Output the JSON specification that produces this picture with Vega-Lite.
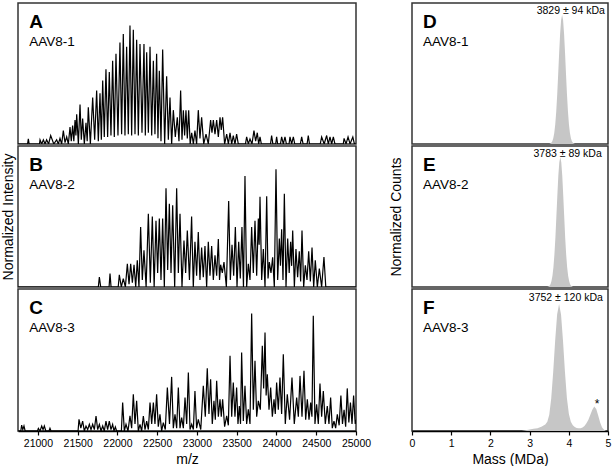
{
  "$schema": "https://vega.github.io/schema/vega-lite/v6.json",
  "padding": {"left": 0, "top": 2, "right": 2, "bottom": 0},
  "background": "white",
  "datasets": {
    "A": [
      {"mz":20750,"i":0},{"mz":20870,"i":0},{"mz":20880,"i":0.036},{"mz":20890,"i":0},{"mz":21020,"i":0},{"mz":21027,"i":0.03},{"mz":21048,"i":0},{"mz":21069,"i":0.03},{"mz":21090,"i":0},{"mz":21110,"i":0.03},{"mz":21135,"i":0},{"mz":21161,"i":0.06},{"mz":21200,"i":0},{"mz":21236,"i":0.03},{"mz":21257,"i":0},{"mz":21278,"i":0.04},{"mz":21299,"i":0},{"mz":21320,"i":0.095},{"mz":21341,"i":0.01},{"mz":21362,"i":0.05},{"mz":21383,"i":0},{"mz":21404,"i":0.12},{"mz":21420,"i":0.02},{"mz":21437,"i":0.13},{"mz":21452,"i":0.02},{"mz":21467,"i":0.17},{"mz":21478,"i":0.06},{"mz":21488,"i":0.21},{"mz":21509,"i":0},{"mz":21530,"i":0.28},{"mz":21546,"i":0.03},{"mz":21563,"i":0.18},{"mz":21584,"i":0},{"mz":21605,"i":0.15},{"mz":21620,"i":0.02},{"mz":21634,"i":0.26},{"mz":21660,"i":0},{"mz":21689,"i":0.33},{"mz":21714,"i":0.03},{"mz":21739,"i":0.38},{"mz":21760,"i":0.02},{"mz":21781,"i":0.36},{"mz":21798,"i":0.03},{"mz":21815,"i":0.45},{"mz":21835,"i":0.05},{"mz":21856,"i":0.53},{"mz":21877,"i":0.05},{"mz":21898,"i":0.51},{"mz":21919,"i":0.06},{"mz":21940,"i":0.59},{"mz":21961,"i":0.05},{"mz":21982,"i":0.64},{"mz":22007,"i":0.06},{"mz":22032,"i":0.72},{"mz":22053,"i":0.07},{"mz":22074,"i":0.78},{"mz":22095,"i":0.06},{"mz":22116,"i":0.69},{"mz":22137,"i":0.07},{"mz":22158,"i":0.84},{"mz":22179,"i":0.06},{"mz":22200,"i":0.81},{"mz":22221,"i":0.07},{"mz":22242,"i":0.74},{"mz":22263,"i":0.06},{"mz":22284,"i":0.71},{"mz":22309,"i":0.08},{"mz":22334,"i":0.71},{"mz":22351,"i":0.06},{"mz":22368,"i":0.65},{"mz":22389,"i":0.08},{"mz":22410,"i":0.69},{"mz":22431,"i":0.06},{"mz":22452,"i":0.59},{"mz":22472,"i":0.07},{"mz":22493,"i":0.64},{"mz":22510,"i":0.04},{"mz":22527,"i":0.52},{"mz":22548,"i":0.02},{"mz":22569,"i":0.67},{"mz":22594,"i":0},{"mz":22619,"i":0.48},{"mz":22640,"i":0.03},{"mz":22661,"i":0.33},{"mz":22682,"i":0},{"mz":22703,"i":0.24},{"mz":22728,"i":0.05},{"mz":22753,"i":0.19},{"mz":22774,"i":0.02},{"mz":22795,"i":0.38},{"mz":22812,"i":0.03},{"mz":22829,"i":0.24},{"mz":22845,"i":0.06},{"mz":22862,"i":0.24},{"mz":22879,"i":0.04},{"mz":22896,"i":0.24},{"mz":22915,"i":0},{"mz":22934,"i":0.08},{"mz":22955,"i":0},{"mz":22975,"i":0.095},{"mz":22996,"i":0},{"mz":23017,"i":0.24},{"mz":23038,"i":0.04},{"mz":23059,"i":0.19},{"mz":23085,"i":0},{"mz":23114,"i":0.07},{"mz":23143,"i":0},{"mz":23172,"i":0.17},{"mz":23189,"i":0.08},{"mz":23206,"i":0.17},{"mz":23227,"i":0.07},{"mz":23248,"i":0.17},{"mz":23269,"i":0.05},{"mz":23290,"i":0.19},{"mz":23306,"i":0.1},{"mz":23323,"i":0.19},{"mz":23348,"i":0},{"mz":23374,"i":0.07},{"mz":23395,"i":0},{"mz":23416,"i":0.08},{"mz":23437,"i":0},{"mz":23457,"i":0.06},{"mz":23478,"i":0},{"mz":23499,"i":0.07},{"mz":23520,"i":0},{"mz":23610,"i":0},{"mz":23625,"i":0.05},{"mz":23646,"i":0},{"mz":23667,"i":0.036},{"mz":23692,"i":0},{"mz":23717,"i":0.095},{"mz":23738,"i":0.02},{"mz":23759,"i":0.08},{"mz":23776,"i":0},{"mz":23793,"i":0.05},{"mz":23810,"i":0},{"mz":23925,"i":0},{"mz":23939,"i":0.06},{"mz":23955,"i":0},{"mz":23990,"i":0},{"mz":24002,"i":0.05},{"mz":24015,"i":0},{"mz":24050,"i":0},{"mz":24065,"i":0.05},{"mz":24086,"i":0},{"mz":24107,"i":0.05},{"mz":24125,"i":0},{"mz":24158,"i":0},{"mz":24170,"i":0.05},{"mz":24191,"i":0},{"mz":24212,"i":0.05},{"mz":24230,"i":0},{"mz":24300,"i":0},{"mz":24317,"i":0.05},{"mz":24335,"i":0},{"mz":24385,"i":0},{"mz":24400,"i":0.06},{"mz":24415,"i":0},{"mz":24550,"i":0},{"mz":24568,"i":0.05},{"mz":24600,"i":0},{"mz":24631,"i":0.06},{"mz":24652,"i":0},{"mz":24673,"i":0.05},{"mz":24694,"i":0},{"mz":24715,"i":0.05},{"mz":24735,"i":0},{"mz":24840,"i":0},{"mz":24850,"i":0.04},{"mz":24875,"i":0},{"mz":24900,"i":0.05},{"mz":24925,"i":0},{"mz":24960,"i":0.05},{"mz":24980,"i":0},{"mz":25000,"i":0}
    ],
    "B": [
      {"mz":20750,"i":0},{"mz":21760,"i":0},{"mz":21773,"i":0.07},{"mz":21790,"i":0},{"mz":21895,"i":0},{"mz":21907,"i":0.095},{"mz":21920,"i":0},{"mz":22010,"i":0},{"mz":22024,"i":0.087},{"mz":22049,"i":0},{"mz":22074,"i":0.06},{"mz":22100,"i":0},{"mz":22125,"i":0.165},{"mz":22146,"i":0.02},{"mz":22167,"i":0.165},{"mz":22188,"i":0.03},{"mz":22209,"i":0.158},{"mz":22230,"i":0},{"mz":22250,"i":0.19},{"mz":22271,"i":0},{"mz":22292,"i":0.426},{"mz":22313,"i":0.05},{"mz":22334,"i":0.26},{"mz":22361,"i":0},{"mz":22389,"i":0.52},{"mz":22414,"i":0.03},{"mz":22439,"i":0.5},{"mz":22462,"i":0},{"mz":22485,"i":0.47},{"mz":22506,"i":0.1},{"mz":22527,"i":0.485},{"mz":22548,"i":0.05},{"mz":22569,"i":0.485},{"mz":22590,"i":0},{"mz":22611,"i":0.7},{"mz":22632,"i":0.12},{"mz":22653,"i":0.59},{"mz":22674,"i":0.1},{"mz":22695,"i":0.58},{"mz":22720,"i":0},{"mz":22745,"i":0.7},{"mz":22766,"i":0.1},{"mz":22787,"i":0.52},{"mz":22812,"i":0},{"mz":22837,"i":0.33},{"mz":22858,"i":0.1},{"mz":22879,"i":0.4},{"mz":22906,"i":0.05},{"mz":22933,"i":0.5},{"mz":22954,"i":0},{"mz":22975,"i":0.32},{"mz":22996,"i":0.08},{"mz":23017,"i":0.39},{"mz":23038,"i":0.05},{"mz":23059,"i":0.28},{"mz":23080,"i":0.07},{"mz":23101,"i":0.29},{"mz":23122,"i":0},{"mz":23143,"i":0.32},{"mz":23164,"i":0.08},{"mz":23185,"i":0.29},{"mz":23206,"i":0.05},{"mz":23227,"i":0.225},{"mz":23248,"i":0.08},{"mz":23269,"i":0.34},{"mz":23284,"i":0.05},{"mz":23298,"i":0.158},{"mz":23319,"i":0.1},{"mz":23340,"i":0.177},{"mz":23370,"i":0},{"mz":23399,"i":0.61},{"mz":23420,"i":0.05},{"mz":23441,"i":0.3},{"mz":23462,"i":0.08},{"mz":23483,"i":0.425},{"mz":23504,"i":0},{"mz":23525,"i":0.32},{"mz":23545,"i":0.06},{"mz":23566,"i":0.425},{"mz":23585,"i":0},{"mz":23604,"i":0.787},{"mz":23625,"i":0},{"mz":23646,"i":0.165},{"mz":23667,"i":0.05},{"mz":23688,"i":0.425},{"mz":23709,"i":0.1},{"mz":23730,"i":0.47},{"mz":23751,"i":0.08},{"mz":23772,"i":0.485},{"mz":23782,"i":0.3},{"mz":23793,"i":0.64},{"mz":23814,"i":0.05},{"mz":23835,"i":0.27},{"mz":23856,"i":0},{"mz":23877,"i":0.643},{"mz":23894,"i":0.06},{"mz":23910,"i":0.177},{"mz":23931,"i":0.1},{"mz":23952,"i":0.21},{"mz":23973,"i":0},{"mz":23994,"i":0.835},{"mz":24015,"i":0.05},{"mz":24036,"i":0.343},{"mz":24050,"i":0.15},{"mz":24065,"i":0.41},{"mz":24082,"i":0.05},{"mz":24099,"i":0.662},{"mz":24120,"i":0},{"mz":24141,"i":0.343},{"mz":24160,"i":0.1},{"mz":24178,"i":0.32},{"mz":24191,"i":0.15},{"mz":24204,"i":0.4},{"mz":24225,"i":0},{"mz":24245,"i":0.27},{"mz":24266,"i":0.07},{"mz":24287,"i":0.253},{"mz":24304,"i":0.04},{"mz":24321,"i":0.4},{"mz":24342,"i":0},{"mz":24363,"i":0.154},{"mz":24384,"i":0.05},{"mz":24405,"i":0.253},{"mz":24426,"i":0.04},{"mz":24447,"i":0.28},{"mz":24468,"i":0},{"mz":24488,"i":0.19},{"mz":24514,"i":0},{"mz":24539,"i":0.13},{"mz":24568,"i":0},{"mz":24597,"i":0.213},{"mz":24620,"i":0},{"mz":25000,"i":0}
    ],
    "C": [
      {"mz":20750,"i":0},{"mz":20785,"i":0},{"mz":20796,"i":0.042},{"mz":20810,"i":0.01},{"mz":20825,"i":0.035},{"mz":20840,"i":0},{"mz":20995,"i":0},{"mz":21006,"i":0.019},{"mz":21027,"i":0},{"mz":21048,"i":0.035},{"mz":21065,"i":0.01},{"mz":21081,"i":0.035},{"mz":21100,"i":0},{"mz":21140,"i":0},{"mz":21152,"i":0.019},{"mz":21165,"i":0},{"mz":21505,"i":0},{"mz":21517,"i":0.082},{"mz":21540,"i":0.02},{"mz":21563,"i":0.07},{"mz":21584,"i":0},{"mz":21605,"i":0.035},{"mz":21626,"i":0.01},{"mz":21647,"i":0.047},{"mz":21668,"i":0.01},{"mz":21689,"i":0.047},{"mz":21710,"i":0.01},{"mz":21731,"i":0.106},{"mz":21752,"i":0.01},{"mz":21773,"i":0.047},{"mz":21794,"i":0},{"mz":21815,"i":0.035},{"mz":21835,"i":0},{"mz":21856,"i":0.07},{"mz":21877,"i":0.01},{"mz":21898,"i":0.07},{"mz":21919,"i":0.01},{"mz":21940,"i":0.047},{"mz":21957,"i":0},{"mz":21974,"i":0.028},{"mz":21990,"i":0},{"mz":22050,"i":0},{"mz":22066,"i":0.2},{"mz":22087,"i":0},{"mz":22108,"i":0.047},{"mz":22133,"i":0},{"mz":22158,"i":0.106},{"mz":22179,"i":0.02},{"mz":22200,"i":0.259},{"mz":22221,"i":0.05},{"mz":22242,"i":0.212},{"mz":22263,"i":0},{"mz":22284,"i":0.047},{"mz":22305,"i":0},{"mz":22326,"i":0.106},{"mz":22347,"i":0.01},{"mz":22368,"i":0.07},{"mz":22389,"i":0.01},{"mz":22410,"i":0.2},{"mz":22431,"i":0.05},{"mz":22452,"i":0.2},{"mz":22472,"i":0.05},{"mz":22493,"i":0.259},{"mz":22514,"i":0.03},{"mz":22535,"i":0.118},{"mz":22556,"i":0},{"mz":22577,"i":0.059},{"mz":22602,"i":0.01},{"mz":22628,"i":0.306},{"mz":22655,"i":0.05},{"mz":22682,"i":0.381},{"mz":22703,"i":0.02},{"mz":22724,"i":0.118},{"mz":22745,"i":0.02},{"mz":22766,"i":0.306},{"mz":22787,"i":0.02},{"mz":22808,"i":0.094},{"mz":22829,"i":0.02},{"mz":22850,"i":0.235},{"mz":22871,"i":0.05},{"mz":22892,"i":0.412},{"mz":22913,"i":0.01},{"mz":22934,"i":0.047},{"mz":22955,"i":0.01},{"mz":22975,"i":0.282},{"mz":22996,"i":0.02},{"mz":23017,"i":0.082},{"mz":23048,"i":0.01},{"mz":23080,"i":0.318},{"mz":23105,"i":0.1},{"mz":23130,"i":0.442},{"mz":23151,"i":0.12},{"mz":23172,"i":0.365},{"mz":23193,"i":0.05},{"mz":23214,"i":0.212},{"mz":23231,"i":0.08},{"mz":23248,"i":0.353},{"mz":23269,"i":0.1},{"mz":23290,"i":0.224},{"mz":23306,"i":0.1},{"mz":23323,"i":0.224},{"mz":23348,"i":0.03},{"mz":23374,"i":0.106},{"mz":23395,"i":0.04},{"mz":23416,"i":0.529},{"mz":23437,"i":0.1},{"mz":23457,"i":0.341},{"mz":23478,"i":0.1},{"mz":23499,"i":0.306},{"mz":23516,"i":0.05},{"mz":23533,"i":0.176},{"mz":23548,"i":0.05},{"mz":23562,"i":0.553},{"mz":23583,"i":0.07},{"mz":23604,"i":0.318},{"mz":23625,"i":0.05},{"mz":23646,"i":0.153},{"mz":23667,"i":0.05},{"mz":23688,"i":0.828},{"mz":23709,"i":0.15},{"mz":23730,"i":0.494},{"mz":23751,"i":0.1},{"mz":23772,"i":0.212},{"mz":23797,"i":0.15},{"mz":23822,"i":0.6},{"mz":23839,"i":0.3},{"mz":23856,"i":0.694},{"mz":23870,"i":0.25},{"mz":23885,"i":0.4},{"mz":23906,"i":0.15},{"mz":23927,"i":0.306},{"mz":23948,"i":0.1},{"mz":23969,"i":0.224},{"mz":23985,"i":0.12},{"mz":24002,"i":0.341},{"mz":24023,"i":0.15},{"mz":24044,"i":0.376},{"mz":24065,"i":0.12},{"mz":24086,"i":0.541},{"mz":24111,"i":0.05},{"mz":24136,"i":0.259},{"mz":24165,"i":0.08},{"mz":24195,"i":0.376},{"mz":24224,"i":0.05},{"mz":24254,"i":0.235},{"mz":24275,"i":0.1},{"mz":24296,"i":0.388},{"mz":24321,"i":0.1},{"mz":24346,"i":0.424},{"mz":24367,"i":0.08},{"mz":24388,"i":0.224},{"mz":24409,"i":0.08},{"mz":24430,"i":0.2},{"mz":24446,"i":0.1},{"mz":24463,"i":0.812},{"mz":24484,"i":0.05},{"mz":24505,"i":0.188},{"mz":24526,"i":0.05},{"mz":24547,"i":0.334},{"mz":24568,"i":0.1},{"mz":24589,"i":0.282},{"mz":24614,"i":0.05},{"mz":24639,"i":0.176},{"mz":24660,"i":0.05},{"mz":24681,"i":0.235},{"mz":24702,"i":0.02},{"mz":24723,"i":0.07},{"mz":24744,"i":0.02},{"mz":24765,"i":0.118},{"mz":24788,"i":0.04},{"mz":24810,"i":0.25},{"mz":24830,"i":0.05},{"mz":24850,"i":0.15},{"mz":24870,"i":0.03},{"mz":24890,"i":0.3},{"mz":24910,"i":0.06},{"mz":24930,"i":0.2},{"mz":24950,"i":0.05},{"mz":24970,"i":0.25},{"mz":24990,"i":0.05},{"mz":25000,"i":0.08}
    ],
    "D": [
      {"m":3.5,"c":0},{"m":3.529,"c":0.004},{"m":3.554,"c":0.009},{"m":3.579,"c":0.019},{"m":3.604,"c":0.04},{"m":3.629,"c":0.078},{"m":3.654,"c":0.138},{"m":3.679,"c":0.228},{"m":3.704,"c":0.349},{"m":3.729,"c":0.494},{"m":3.754,"c":0.647},{"m":3.779,"c":0.784},{"m":3.804,"c":0.88},{"m":3.829,"c":0.915},{"m":3.854,"c":0.88},{"m":3.879,"c":0.784},{"m":3.904,"c":0.647},{"m":3.929,"c":0.494},{"m":3.954,"c":0.349},{"m":3.979,"c":0.228},{"m":4.004,"c":0.138},{"m":4.029,"c":0.078},{"m":4.054,"c":0.04},{"m":4.079,"c":0.019},{"m":4.104,"c":0.009},{"m":4.129,"c":0.004},{"m":4.16,"c":0}
    ],
    "E": [
      {"m":3.45,"c":0},{"m":3.483,"c":0.004},{"m":3.508,"c":0.009},{"m":3.533,"c":0.02},{"m":3.558,"c":0.042},{"m":3.583,"c":0.08},{"m":3.608,"c":0.14},{"m":3.633,"c":0.23},{"m":3.658,"c":0.35},{"m":3.683,"c":0.5},{"m":3.708,"c":0.65},{"m":3.733,"c":0.79},{"m":3.758,"c":0.885},{"m":3.783,"c":0.92},{"m":3.808,"c":0.885},{"m":3.833,"c":0.79},{"m":3.858,"c":0.65},{"m":3.883,"c":0.5},{"m":3.908,"c":0.35},{"m":3.933,"c":0.23},{"m":3.958,"c":0.14},{"m":3.983,"c":0.08},{"m":4.008,"c":0.042},{"m":4.033,"c":0.02},{"m":4.058,"c":0.009},{"m":4.083,"c":0.004},{"m":4.11,"c":0}
    ],
    "F": [
      {"m":2.8,"c":0},{"m":2.9,"c":0.005},{"m":3.0,"c":0.01},{"m":3.1,"c":0.015},{"m":3.2,"c":0.02},{"m":3.3,"c":0.03},{"m":3.4,"c":0.045},{"m":3.452,"c":0.065},{"m":3.502,"c":0.115},{"m":3.552,"c":0.23},{"m":3.602,"c":0.415},{"m":3.652,"c":0.635},{"m":3.702,"c":0.82},{"m":3.752,"c":0.895},{"m":3.802,"c":0.82},{"m":3.852,"c":0.635},{"m":3.902,"c":0.415},{"m":3.952,"c":0.23},{"m":4.002,"c":0.12},{"m":4.052,"c":0.065},{"m":4.102,"c":0.04},{"m":4.152,"c":0.028},{"m":4.2,"c":0.022},{"m":4.25,"c":0.02},{"m":4.3,"c":0.02},{"m":4.35,"c":0.025},{"m":4.4,"c":0.035},{"m":4.45,"c":0.055},{"m":4.5,"c":0.08},{"m":4.55,"c":0.115},{"m":4.6,"c":0.15},{"m":4.65,"c":0.172},{"m":4.7,"c":0.155},{"m":4.75,"c":0.11},{"m":4.8,"c":0.06},{"m":4.85,"c":0.025},{"m":4.9,"c":0.008},{"m":4.95,"c":0}
    ]
  },
  "config": {
    "font": "Liberation Sans",
    "view": {"stroke": "#333333", "strokeWidth": 1.5},
    "axis": {"grid": false, "labelFontSize": 10.5, "titleFontSize": 14, "titleFontWeight": "normal", "labelColor": "#000000", "titleColor": "#000000", "domainColor": "#000000", "tickColor": "#000000", "domainWidth": 1.5, "tickWidth": 1.2, "tickSize": 4, "labelPadding": 3, "titlePadding": 4, "labelOverlap": false, "labelFlush": false},
    "text": {"color": "#000000"}
  },
  "spacing": 16,
  "hconcat": [
    {
      "spacing": 0,
      "vconcat": [
        {
          "width": 338, "height": 141,
          "encoding": {
            "x": {"field": "mz", "type": "quantitative", "scale": {"domain": [20750, 25000], "nice": false, "zero": false}, "axis": null},
            "y": {"field": "i", "type": "quantitative", "scale": {"domain": [0, 1], "nice": false}, "axis": null}
          },
          "layer": [
            {"data": {"name": "A"}, "mark": {"type": "line", "color": "#000000", "strokeWidth": 1.2, "clip": true}},
            {"data": {"values": [{"mz": 20892, "i": 0.825, "t": "A"}]}, "mark": {"type": "text", "fontSize": 19, "fontWeight": "bold", "align": "left", "baseline": "alphabetic"}, "encoding": {"text": {"field": "t"}}},
            {"data": {"values": [{"mz": 20892, "i": 0.695, "t": "AAV8-1"}]}, "mark": {"type": "text", "fontSize": 13.5, "align": "left", "baseline": "alphabetic"}, "encoding": {"text": {"field": "t"}}}
          ]
        },
        {
          "width": 338, "height": 141,
          "encoding": {
            "x": {"field": "mz", "type": "quantitative", "scale": {"domain": [20750, 25000], "nice": false, "zero": false}, "axis": null},
            "y": {"field": "i", "type": "quantitative", "scale": {"domain": [0, 1], "nice": false}, "axis": {"title": "Normalized Intensity", "labels": false, "ticks": false, "domain": false, "titlePadding": 3}}
          },
          "layer": [
            {"data": {"name": "B"}, "mark": {"type": "line", "color": "#000000", "strokeWidth": 1.2, "clip": true}},
            {"data": {"values": [{"mz": 20892, "i": 0.825, "t": "B"}]}, "mark": {"type": "text", "fontSize": 19, "fontWeight": "bold", "align": "left", "baseline": "alphabetic"}, "encoding": {"text": {"field": "t"}}},
            {"data": {"values": [{"mz": 20892, "i": 0.695, "t": "AAV8-2"}]}, "mark": {"type": "text", "fontSize": 13.5, "align": "left", "baseline": "alphabetic"}, "encoding": {"text": {"field": "t"}}}
          ]
        },
        {
          "width": 338, "height": 142,
          "encoding": {
            "x": {"field": "mz", "type": "quantitative", "scale": {"domain": [20750, 25000], "nice": false, "zero": false}, "axis": {"title": "m/z", "values": [21000, 21500, 22000, 22500, 23000, 23500, 24000, 24500, 25000], "format": "d"}},
            "y": {"field": "i", "type": "quantitative", "scale": {"domain": [0, 1], "nice": false}, "axis": null}
          },
          "layer": [
            {"data": {"name": "C"}, "mark": {"type": "line", "color": "#000000", "strokeWidth": 1.2, "clip": true}},
            {"data": {"values": [{"mz": 20892, "i": 0.825, "t": "C"}]}, "mark": {"type": "text", "fontSize": 19, "fontWeight": "bold", "align": "left", "baseline": "alphabetic"}, "encoding": {"text": {"field": "t"}}},
            {"data": {"values": [{"mz": 20892, "i": 0.695, "t": "AAV8-3"}]}, "mark": {"type": "text", "fontSize": 13.5, "align": "left", "baseline": "alphabetic"}, "encoding": {"text": {"field": "t"}}}
          ]
        }
      ]
    },
    {
      "spacing": 0,
      "vconcat": [
        {
          "width": 196, "height": 141,
          "encoding": {
            "x": {"field": "m", "type": "quantitative", "scale": {"domain": [0, 5], "nice": false}, "axis": null},
            "y": {"field": "c", "type": "quantitative", "scale": {"domain": [0, 1], "nice": false}, "axis": null}
          },
          "layer": [
            {"data": {"name": "D"}, "mark": {"type": "area", "color": "#c6c6c6", "clip": true}},
            {"data": {"values": [{"m": 0.28, "c": 0.825, "t": "D"}]}, "mark": {"type": "text", "fontSize": 19, "fontWeight": "bold", "align": "left", "baseline": "alphabetic"}, "encoding": {"text": {"field": "t"}}},
            {"data": {"values": [{"m": 0.28, "c": 0.695, "t": "AAV8-1"}]}, "mark": {"type": "text", "fontSize": 13.5, "align": "left", "baseline": "alphabetic"}, "encoding": {"text": {"field": "t"}}},
            {"data": {"values": [{"m": 4.92, "c": 0.92, "t": "3829 ± 94 kDa"}]}, "mark": {"type": "text", "fontSize": 10.5, "align": "right", "baseline": "alphabetic"}, "encoding": {"text": {"field": "t"}}}
          ]
        },
        {
          "width": 196, "height": 141,
          "encoding": {
            "x": {"field": "m", "type": "quantitative", "scale": {"domain": [0, 5], "nice": false}, "axis": null},
            "y": {"field": "c", "type": "quantitative", "scale": {"domain": [0, 1], "nice": false}, "axis": {"title": "Normalized Counts", "labels": false, "ticks": false, "domain": false, "titlePadding": 9}}
          },
          "layer": [
            {"data": {"name": "E"}, "mark": {"type": "area", "color": "#c6c6c6", "clip": true}},
            {"data": {"values": [{"m": 0.28, "c": 0.825, "t": "E"}]}, "mark": {"type": "text", "fontSize": 19, "fontWeight": "bold", "align": "left", "baseline": "alphabetic"}, "encoding": {"text": {"field": "t"}}},
            {"data": {"values": [{"m": 0.28, "c": 0.695, "t": "AAV8-2"}]}, "mark": {"type": "text", "fontSize": 13.5, "align": "left", "baseline": "alphabetic"}, "encoding": {"text": {"field": "t"}}},
            {"data": {"values": [{"m": 4.84, "c": 0.925, "t": "3783 ± 89 kDa"}]}, "mark": {"type": "text", "fontSize": 10.5, "align": "right", "baseline": "alphabetic"}, "encoding": {"text": {"field": "t"}}}
          ]
        },
        {
          "width": 196, "height": 142,
          "encoding": {
            "x": {"field": "m", "type": "quantitative", "scale": {"domain": [0, 5], "nice": false}, "axis": {"title": "Mass (MDa)", "values": [0, 1, 2, 3, 4, 5]}},
            "y": {"field": "c", "type": "quantitative", "scale": {"domain": [0, 1], "nice": false}, "axis": null}
          },
          "layer": [
            {"data": {"name": "F"}, "mark": {"type": "area", "color": "#c6c6c6", "clip": true}},
            {"data": {"values": [{"m": 0.28, "c": 0.825, "t": "F"}]}, "mark": {"type": "text", "fontSize": 19, "fontWeight": "bold", "align": "left", "baseline": "alphabetic"}, "encoding": {"text": {"field": "t"}}},
            {"data": {"values": [{"m": 0.28, "c": 0.695, "t": "AAV8-3"}]}, "mark": {"type": "text", "fontSize": 13.5, "align": "left", "baseline": "alphabetic"}, "encoding": {"text": {"field": "t"}}},
            {"data": {"values": [{"m": 4.87, "c": 0.915, "t": "3752 ± 120 kDa"}]}, "mark": {"type": "text", "fontSize": 10.5, "align": "right", "baseline": "alphabetic"}, "encoding": {"text": {"field": "t"}}},
            {"data": {"values": [{"m": 4.72, "c": 0.165, "t": "*"}]}, "mark": {"type": "text", "fontSize": 12, "align": "center", "baseline": "alphabetic"}, "encoding": {"text": {"field": "t"}}}
          ]
        }
      ]
    }
  ]
}
